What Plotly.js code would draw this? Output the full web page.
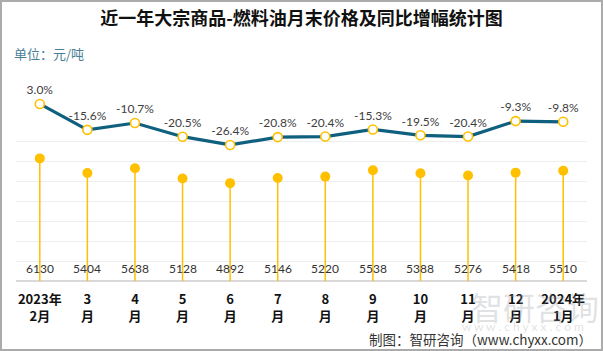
<!DOCTYPE html>
<html>
<head>
<meta charset="utf-8">
<script src="https://cdn.plot.ly/plotly-3.0.1.min.js"></script>
<style>
  html, body { margin: 0; padding: 0; background: #fff; }
  #wrap { position: relative; width: 603px; height: 351px; }
  #chart { position: absolute; left: 0; top: 0; width: 603px; height: 351px; }
  #frame { position: absolute; left: 0; top: 0; width: 603px; height: 351px; box-sizing: border-box; border: 2px solid #ababab; pointer-events: none; }
</style>
</head>
<body>
<div id="wrap"><div id="chart"></div><div id="frame"></div></div>
<script>
const categories = ["2023年<br>2月", "3<br>月", "4<br>月", "5<br>月", "6<br>月", "7<br>月", "8<br>月", "9<br>月", "10<br>月", "11<br>月", "12<br>月", "2024年<br>1月"];
const prices = [6130, 5404, 5638, 5128, 4892, 5146, 5220, 5538, 5388, 5276, 5418, 5510];
const yoy = [3.0, -15.6, -10.7, -20.5, -26.4, -20.8, -20.4, -15.3, -19.5, -20.4, -9.3, -9.8];
const priceTicks = [0, 1000, 2000, 3000, 4000, 5000, 6000, 7000];

const cjk = "'Noto Sans CJK SC', 'Noto Sans', sans-serif";
const num = "Lato, 'Noto Sans CJK SC', sans-serif";

const traces = [
  {
    type: 'scatter', mode: 'markers', x: categories, y: prices,
    marker: { color: '#FFC000', size: 10 },
    error_y: { type: 'data', symmetric: false, array: prices.map(() => 0), arrayminus: prices, width: 0, thickness: 1.5, color: '#FFC000' },
    hoverinfo: 'skip', cliponaxis: false
  },
  {
    type: 'scatter', mode: 'lines+markers+text', x: categories, y: yoy, yaxis: 'y2',
    line: { color: '#0f5f7f', width: 3.2 },
    marker: { color: '#ffffff', size: 9, line: { color: '#FFC000', width: 1.6 } },
    text: yoy.map(v => v.toFixed(1) + '%'),
    textposition: 'top center',
    textfont: { family: num, size: 12, color: '#404040' },
    cliponaxis: false, hoverinfo: 'skip'
  }
];

const annotations = categories.map((c, i) => ({
  x: c, y: 0, xref: 'x', yref: 'y', text: String(prices[i]), showarrow: false,
  yanchor: 'middle', yshift: 13, font: { family: num, size: 12, color: '#333333' }
}));
annotations.push({
  xref: 'paper', yref: 'paper', x: -4/571, y: 1 + 8/220, xanchor: 'left', yanchor: 'middle',
  text: '单位：元/吨', showarrow: false, font: { family: cjk, size: 13, color: '#4a7d96' }
});
annotations.push({
  xref: 'paper', yref: 'paper', x: 1 + 7/571, y: -58/220, xanchor: 'right', yanchor: 'middle',
  text: '制图：智研咨询（www.chyxx.com）', showarrow: false, font: { family: cjk, size: 13.5, color: '#333333' }
});
annotations.push({
  xref: 'paper', yref: 'paper', x: 1 + 14/571, y: -25/220, xanchor: 'right', yanchor: 'middle',
  text: '智研咨询', showarrow: false, font: { family: cjk, size: 32, color: 'rgba(150,155,160,0.3)' }
});
annotations.push({
  xref: 'paper', yref: 'paper', x: 1 - 1/571, y: -45/220, xanchor: 'right', yanchor: 'middle',
  text: 'w w w . c h y x x . c o m', showarrow: false, font: { family: num, size: 12, color: 'rgba(150,155,160,0.3)' }
});

const layout = {
  width: 603, height: 351,
  margin: { l: 16, r: 16, t: 61, b: 70, autoexpand: false },
  paper_bgcolor: '#ffffff', plot_bgcolor: '#ffffff',
  showlegend: false,
  title: { text: '<b>近一年大宗商品-燃料油月末价格及同比增幅统计图</b>', x: 0.5, xanchor: 'center', y: 1 - 19/351, yanchor: 'middle', font: { family: cjk, size: 18, color: '#111111' } },
  xaxis: {
    type: 'category', range: [-0.5, 11.5], automargin: false, showgrid: false, zeroline: false,
    showline: false, ticks: '', ticklabelstandoff: 9, tickfont: { family: cjk, size: 13, color: '#111111', weight: 700 },
    fixedrange: true
  },
  yaxis: {
    range: [0, 11000], tickvals: priceTicks, showticklabels: false, showgrid: true, automargin: false,
    gridcolor: '#eeeeee', gridwidth: 1, zeroline: true, zerolinecolor: '#d9d9d9', zerolinewidth: 1.5, fixedrange: true
  },
  yaxis2: {
    overlaying: 'y', range: [-124, 33.8], visible: false, showgrid: false, zeroline: false, fixedrange: true
  },
  annotations: annotations
};

Plotly.newPlot('chart', traces, layout, { staticPlot: true, displayModeBar: false });
</script>
</body>
</html>
